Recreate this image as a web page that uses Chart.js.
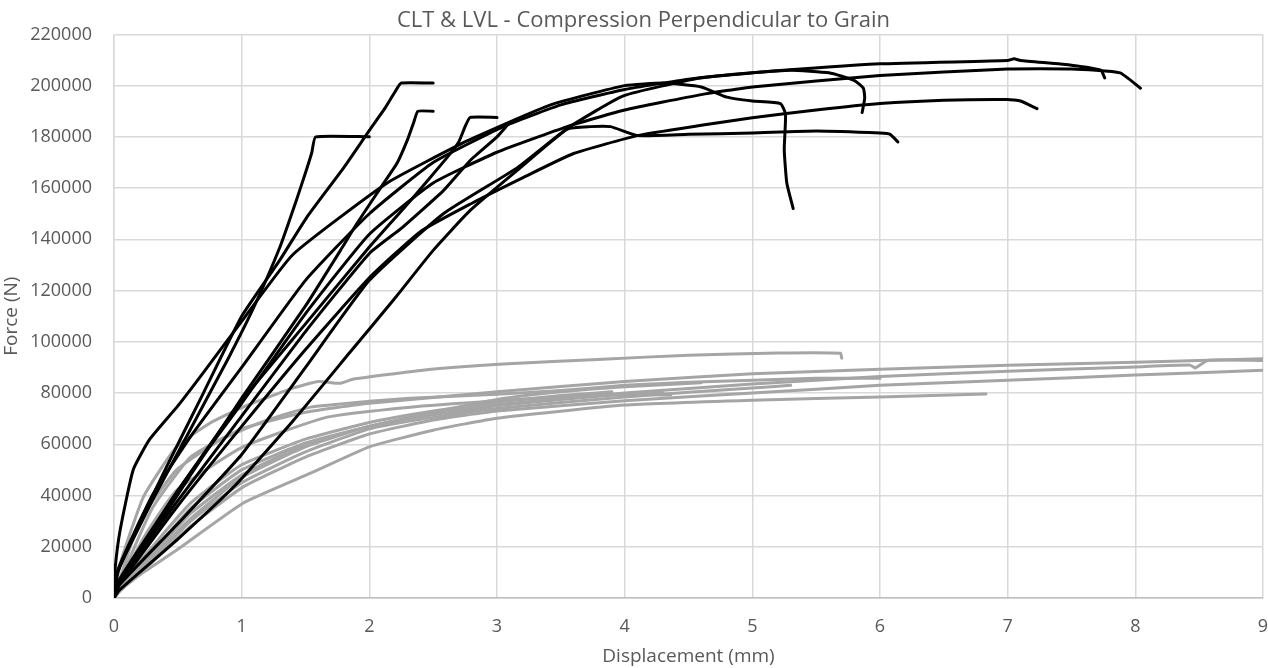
<!DOCTYPE html>
<html>
<head>
<meta charset="utf-8">
<script src="https://cdn.jsdelivr.net/npm/chart.js@4.4.0/dist/chart.umd.min.js"></script>
<style>
  html, body { margin: 0; padding: 0; background: #ffffff; }
  #wrap { width: 1268px; height: 668px; position: relative; }
</style>
</head>
<body>
<div id="wrap"><canvas id="c" width="1268" height="668"></canvas></div>
<script>
// ---- Axis ticks ----
const xTicks = [0, 1, 2, 3, 4, 5, 6, 7, 8, 9];
const yTicks = [0, 20000, 40000, 60000, 80000, 100000, 120000, 140000, 160000, 180000, 200000, 220000];

// ---- LVL specimens (black): displacement (mm) / force (N) ----
const lvlA_x = [0, 0.02, 0.1, 0.3, 0.6, 0.9, 1.1, 1.3, 1.42, 1.5, 1.55, 1.58, 2.0];
const lvlA_y = [0, 9000, 18000, 38000, 66000, 94000, 114000, 137000, 154000, 166000, 174000, 180000, 180000];
const lvlB_x = [0, 0.03, 0.15, 0.4, 0.7, 1.0, 1.3, 1.51, 1.8, 2.0, 2.12, 2.2, 2.25, 2.5];
const lvlB_y = [0, 10000, 24000, 50000, 80000, 110000, 132000, 148600, 168000, 182500, 191000, 197500, 201000, 201000];
const lvlC_x = [0, 0.04, 0.3, 0.6, 1.0, 1.5, 1.79, 1.9, 2.1, 2.22, 2.3, 2.35, 2.38, 2.5];
const lvlC_y = [0, 6000, 25000, 48000, 78000, 114000, 137000, 146000, 161000, 170000, 179000, 186000, 190000, 190000];
const lvlD_x = [0, 0.04, 0.3, 0.6, 1.0, 1.5, 2.0, 2.32, 2.61, 2.7, 2.75, 2.79, 3.0];
const lvlD_y = [0, 7000, 27000, 49000, 77000, 107000, 137000, 155000, 172000, 178000, 184000, 187600, 187600];
const lvlE_x = [0, 0.04, 0.5, 1.0, 1.5, 2.0, 2.26, 2.58, 2.79, 3.0, 3.08];
const lvlE_y = [0, 6000, 38000, 71000, 104000, 134500, 144700, 159000, 170800, 180000, 184500];
const lvlF_x = [0, 0.01, 0.05, 0.15, 0.28, 0.5, 0.7, 1.0, 1.4, 2.14, 2.77, 3.42, 4.0, 4.3, 4.6, 4.8, 5.0, 5.22, 5.26, 5.25, 5.27, 5.32];
const lvlF_y = [0, 12000, 27000, 50000, 62000, 75000, 88000, 108000, 134000, 162000, 178500, 192500, 200000, 201000, 199500, 195500, 194000, 193000, 189000, 175000, 162000, 152000];
const lvlG_x = [0, 0.04, 0.5, 1.0, 1.5, 2.0, 2.58, 3.16, 3.55, 3.99, 4.59, 5.0, 5.3, 5.6, 5.8, 5.87, 5.88, 5.86];
const lvlG_y = [0, 5000, 29000, 56000, 90000, 124000, 150000, 168000, 183300, 196000, 203000, 205000, 206000, 205000, 202000, 199000, 195000, 189500];
const lvlH_x = [0, 0.03, 0.3, 0.6, 1.0, 1.5, 2.0, 2.5, 3.05, 3.5, 4.0, 4.5, 5.0, 6.0, 7.0, 7.05, 7.1, 7.5, 7.73, 7.76];
const lvlH_y = [0, 11000, 40000, 63000, 90000, 124000, 150000, 170000, 184000, 192500, 198500, 202500, 205000, 208500, 209800, 210500, 209800, 208000, 206000, 203000];
const lvlI_x = [0, 0.04, 0.5, 1.0, 1.5, 2.0, 2.5, 3.0, 3.55, 4.0, 4.6, 5.0, 6.0, 7.0, 7.5, 7.88, 8.04];
const lvlI_y = [0, 6000, 42000, 76000, 111000, 142000, 162000, 174000, 184000, 190500, 196500, 199500, 204000, 206500, 206500, 205000, 199000];
const lvlJ_x = [0, 0.04, 0.5, 1.0, 1.5, 2.0, 2.4, 2.8, 3.2, 3.6, 4.1, 4.6, 5.0, 5.5, 6.0, 6.5, 7.0, 7.1, 7.23];
const lvlJ_y = [0, 5000, 36000, 67000, 97000, 125000, 143000, 154000, 164000, 173500, 180500, 184500, 187500, 190500, 193000, 194300, 194600, 194000, 191000];
const lvlK_x = [0, 0.04, 0.5, 0.95, 1.4, 1.85, 2.2, 2.5, 2.79, 3.16, 3.55, 3.73, 3.89, 4.1, 4.5, 5.0, 5.5, 6.0, 6.08, 6.14];
const lvlK_y = [0, 3000, 23000, 44000, 69000, 96000, 117000, 135700, 151300, 167000, 183000, 184000, 184000, 180500, 181000, 181500, 182300, 181500, 181000, 178000];

// ---- CLT specimens (grey) ----
const cltA_x = [0, 0.05, 0.23, 0.49, 0.75, 1.01, 1.4, 1.6, 1.77, 1.87, 2.42, 3.05, 3.83, 4.5, 5.2, 5.69, 5.7];
const cltA_y = [0, 13600, 39400, 59000, 68200, 74500, 81900, 84500, 83800, 85400, 88900, 91300, 93200, 94800, 95600, 95500, 93600];
const cltB_x = [0, 0.05, 0.3, 0.6, 1.0, 1.5, 2.0, 3.0, 4.0, 5.0, 6.0, 7.0, 8.0, 9.0];
const cltB_y = [0, 7000, 35000, 55000, 66000, 72500, 76000, 80500, 84500, 87500, 89300, 90900, 92000, 93400];
const cltC_x = [0, 0.05, 0.3, 0.6, 1.0, 1.5, 2.0, 2.5, 3.0, 4.0, 5.0, 6.0, 7.0, 8.0, 8.43, 8.47, 8.57, 9.0];
const cltC_y = [0, 3000, 16000, 31000, 47000, 59000, 67000, 72000, 75500, 80000, 83500, 86500, 88500, 90200, 90900, 89800, 92800, 92700];
const cltD_x = [0, 0.05, 0.3, 0.6, 1.0, 1.5, 2.0, 2.5, 3.0, 4.0, 5.0, 6.0, 7.0, 8.0, 9.0];
const cltD_y = [0, 3000, 14000, 28000, 43000, 55000, 64000, 69500, 73000, 77000, 80000, 83000, 85000, 87000, 88900];
const cltE_x = [0, 0.05, 0.23, 0.5, 1.01, 1.54, 2.0, 2.5, 3.0, 4.0, 5.0, 6.0, 6.55, 6.83];
const cltE_y = [0, 3000, 10000, 19000, 37000, 48700, 59000, 65500, 70200, 75300, 77200, 78500, 79200, 79600];
const cltF_x = [0, 0.05, 0.2, 0.49, 0.83, 1.2, 1.54, 2.0, 2.32, 3.0, 3.5, 4.0, 4.5, 5.0, 5.5, 6.0];
const cltF_y = [0, 8000, 30000, 50000, 61600, 69500, 74500, 76800, 78000, 79500, 81000, 83000, 84200, 85000, 85800, 85800];
const cltG_x = [0, 0.05, 0.25, 0.49, 1.01, 1.67, 2.32, 3.0, 3.5, 4.0, 4.36];
const cltG_y = [0, 6000, 25000, 42000, 59000, 70600, 74500, 77000, 78500, 79500, 79200];
const cltH_x = [0, 0.05, 0.3, 0.6, 1.0, 1.5, 2.0, 2.5, 3.0, 3.5, 4.0, 4.3];
const cltH_y = [0, 4000, 17000, 33000, 48000, 60000, 67000, 71500, 75000, 77500, 79500, 80000];
const cltI_x = [0, 0.05, 0.3, 0.6, 1.0, 1.5, 2.0, 2.5, 3.0, 4.0, 5.0, 5.3];
const cltI_y = [0, 3500, 15000, 30000, 45000, 57000, 66000, 70500, 74000, 78500, 82000, 83000];
const cltJ_x = [0, 0.05, 0.3, 0.6, 1.0, 1.5, 2.0, 2.5, 3.0, 3.5, 3.9];
const cltJ_y = [0, 5000, 20000, 37000, 52000, 62000, 68500, 73000, 76500, 79000, 80500];
const cltK_x = [0, 0.05, 0.3, 0.6, 1.0, 1.5, 2.0, 2.5, 3.0, 3.5, 4.0, 4.6];
const cltK_y = [0, 4500, 18000, 35000, 50000, 60500, 67000, 72500, 77500, 80500, 82500, 84000];

const lvlSeries = [
  ['LVL 1', lvlA_x, lvlA_y], ['LVL 2', lvlB_x, lvlB_y], ['LVL 3', lvlC_x, lvlC_y],
  ['LVL 4', lvlD_x, lvlD_y], ['LVL 5', lvlE_x, lvlE_y], ['LVL 6', lvlF_x, lvlF_y],
  ['LVL 7', lvlG_x, lvlG_y], ['LVL 8', lvlH_x, lvlH_y], ['LVL 9', lvlI_x, lvlI_y],
  ['LVL 10', lvlJ_x, lvlJ_y], ['LVL 11', lvlK_x, lvlK_y]
];
const cltSeries = [
  ['CLT 1', cltA_x, cltA_y], ['CLT 2', cltB_x, cltB_y], ['CLT 3', cltC_x, cltC_y],
  ['CLT 4', cltD_x, cltD_y], ['CLT 5', cltE_x, cltE_y], ['CLT 6', cltF_x, cltF_y],
  ['CLT 7', cltG_x, cltG_y], ['CLT 8', cltH_x, cltH_y], ['CLT 9', cltI_x, cltI_y],
  ['CLT 10', cltJ_x, cltJ_y], ['CLT 11', cltK_x, cltK_y]
];

function makeDs(s, color) {
  return {
    label: s[0],
    data: s[1].map((x, i) => ({ x: x, y: s[2][i] })),
    showLine: true,
    borderColor: color,
    backgroundColor: color,
    borderWidth: 3,
    pointRadius: 0,
    pointHoverRadius: 0,
    tension: 0.15,
    borderCapStyle: 'round',
    borderJoinStyle: 'round',
    fill: false
  };
}

const datasets = lvlSeries.map(s => makeDs(s, '#000000'))
  .concat(cltSeries.map(s => makeDs(s, '#A5A5A5')));

const FONT = "'Open Sans', 'DejaVu Sans', sans-serif";
const TXT = '#595959';

new Chart(document.getElementById('c'), {
  type: 'scatter',
  data: { datasets: datasets },
  options: {
    responsive: false,
    animation: false,
    layout: { padding: { left: 24, right: 5, top: 0, bottom: 0 } },
    plugins: {
      legend: { display: false },
      tooltip: { enabled: false },
      title: {
        display: true,
        text: 'CLT & LVL - Compression Perpendicular to Grain',
        color: TXT,
        font: { family: FONT, size: 22, weight: 'normal' },
        padding: { top: 8, bottom: 0 }
      }
    },
    scales: {
      x: {
        type: 'linear',
        min: xTicks[0], max: xTicks[xTicks.length - 1],
        afterBuildTicks: (sc) => { sc.ticks = xTicks.map(v => ({ value: v })); },
        afterFit: (sc) => { sc.height = 70; sc.paddingLeft = 0; sc.paddingRight = 0; },
        grid: { color: '#D9D9D9', lineWidth: 1.5, drawTicks: false },
        border: { color: '#BFBFBF', width: 1.5 },
        ticks: { color: TXT, font: { family: FONT, size: 18 }, padding: 18 },
        title: { display: true, text: 'Displacement (mm)', color: TXT, font: { family: FONT, size: 19 }, padding: { top: 0, bottom: 0 } }
      },
      y: {
        type: 'linear',
        min: yTicks[0], max: yTicks[yTicks.length - 1],
        afterBuildTicks: (sc) => { sc.ticks = yTicks.map(v => ({ value: v })); },
        afterFit: (sc) => { sc.width = 90; sc.paddingTop = 0; sc.paddingBottom = 0; },
        grid: { color: '#D9D9D9', lineWidth: 1.5, drawTicks: false },
        border: { color: '#D9D9D9', width: 1.5 },
        ticks: { color: TXT, font: { family: FONT, size: 18 }, padding: 22, callback: (v) => String(v) },
        title: { display: true, text: 'Force (N)', color: TXT, font: { family: FONT, size: 19 }, padding: { top: -24, bottom: 0 } }
      }
    }
  }
});
</script>
</body>
</html>
